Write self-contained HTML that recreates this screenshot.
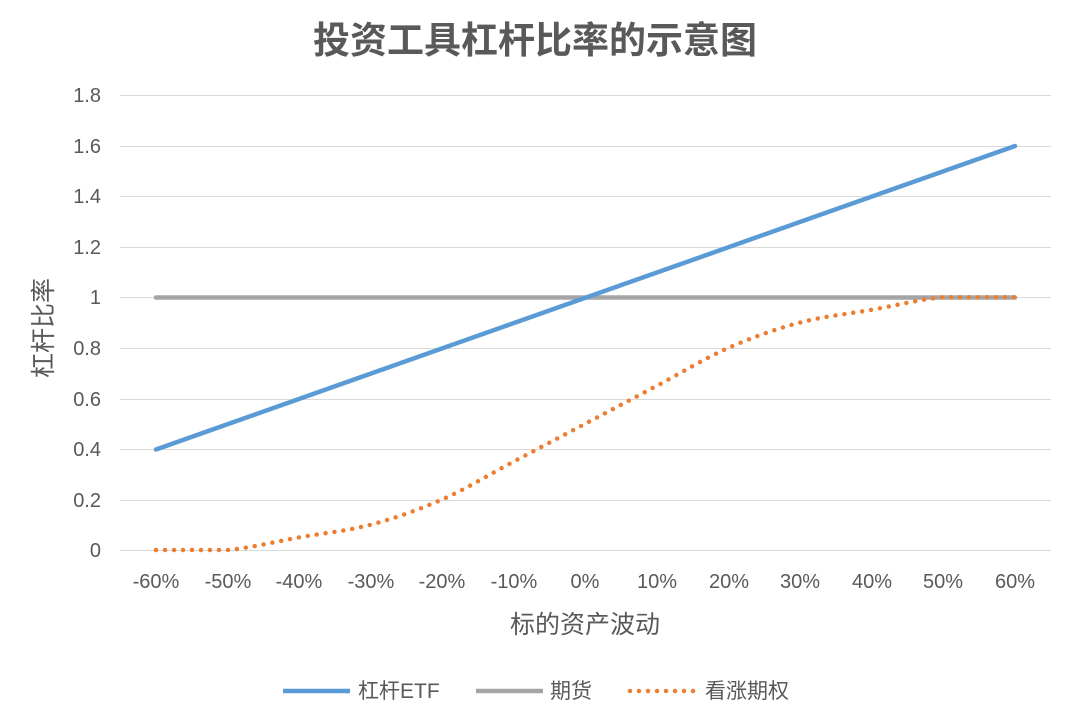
<!DOCTYPE html>
<html><head><meta charset="utf-8"><style>
html,body{margin:0;padding:0;background:#fff;}
svg{display:block;font-family:"Liberation Sans","Noto Sans CJK SC",sans-serif;}
</style></head><body>
<svg width="1070" height="726" viewBox="0 0 1070 726">
<text x="535" y="53" text-anchor="middle" font-size="37" font-weight="bold" fill="#595959">投资工具杠杆比率的示意图</text>
<g stroke="#D9D9D9" stroke-width="1">
<line x1="120" x2="1051" y1="95.5" y2="95.5"/>
<line x1="120" x2="1051" y1="146.5" y2="146.5"/>
<line x1="120" x2="1051" y1="196.5" y2="196.5"/>
<line x1="120" x2="1051" y1="247.5" y2="247.5"/>
<line x1="120" x2="1051" y1="297.5" y2="297.5"/>
<line x1="120" x2="1051" y1="348.5" y2="348.5"/>
<line x1="120" x2="1051" y1="399.5" y2="399.5"/>
<line x1="120" x2="1051" y1="449.5" y2="449.5"/>
<line x1="120" x2="1051" y1="500.5" y2="500.5"/>
<line x1="120" x2="1051" y1="550.5" y2="550.5"/>
</g>
<g font-size="20" fill="#595959" text-anchor="end">
<text x="101" y="102">1.8</text><text x="101" y="153">1.6</text><text x="101" y="203">1.4</text>
<text x="101" y="254">1.2</text><text x="101" y="304">1</text><text x="101" y="355">0.8</text>
<text x="101" y="406">0.6</text><text x="101" y="456">0.4</text><text x="101" y="507">0.2</text>
<text x="101" y="557">0</text>
</g>
<g font-size="20" fill="#595959" text-anchor="middle">
<text x="156" y="588">-60%</text><text x="228" y="588">-50%</text><text x="299" y="588">-40%</text>
<text x="371" y="588">-30%</text><text x="442" y="588">-20%</text><text x="514" y="588">-10%</text>
<text x="585" y="588">0%</text><text x="657" y="588">10%</text><text x="729" y="588">20%</text>
<text x="800" y="588">30%</text><text x="872" y="588">40%</text><text x="943" y="588">50%</text>
<text x="1015" y="588">60%</text>
</g>
<text x="585" y="633" text-anchor="middle" font-size="25" fill="#595959">标的资产波动</text>
<text transform="translate(52,328) rotate(-90)" text-anchor="middle" font-size="25" fill="#595959">杠杆比率</text>
<line x1="156" y1="297.5" x2="1015" y2="297.5" stroke="#A5A5A5" stroke-width="4.5" stroke-linecap="round"/>
<line x1="156" y1="449.5" x2="1015" y2="146" stroke="#5B9BD5" stroke-width="4.5" stroke-linecap="round"/>
<path d="M156,550 C179.9,550 203.7,550 227.6,550 C251.5,547.9 275.3,541.6 299.2,537.4 C323.1,533.2 346.8,531 370.7,524.7 C394.6,518.4 418.4,509.9 442.3,499.4 C466.2,488.9 490,474.1 513.9,461.5 C537.8,448.9 561.6,436.2 585.5,423.6 C609.4,411 633.2,398.3 657.1,385.7 C681,373.1 704.7,358.3 728.6,347.8 C752.5,337.3 776.3,328.8 800.2,322.5 C824.1,316.2 847.9,314 871.8,309.8 C895.7,305.6 919.5,299.3 943.4,297.2 C967.3,297.2 991.1,297.2 1015,297.2" fill="none" stroke="#ED7D31" stroke-width="4.5" stroke-linecap="round" stroke-dasharray="0 9"/>
<line x1="283" y1="691" x2="350" y2="691" stroke="#5B9BD5" stroke-width="4.5"/>
<text x="358" y="698" font-size="21" fill="#595959">杠杆ETF</text>
<line x1="476" y1="691" x2="543" y2="691" stroke="#A5A5A5" stroke-width="4.5"/>
<text x="550" y="698" font-size="21" fill="#595959">期货</text>
<line x1="630" y1="691" x2="697" y2="691" stroke="#ED7D31" stroke-width="4.5" stroke-linecap="round" stroke-dasharray="0 9"/>
<text x="705" y="698" font-size="21" fill="#595959">看涨期权</text>
</svg>
</body></html>
